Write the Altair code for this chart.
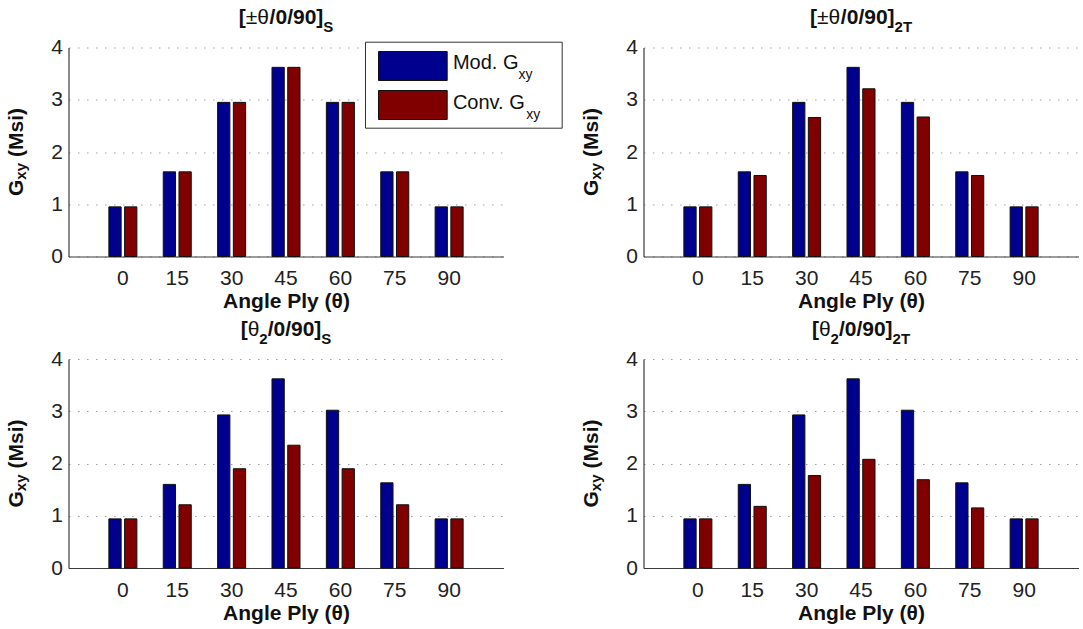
import altair as alt
import pandas as pd

# ---------------- data ----------------
angles = ["0", "15", "30", "45", "60", "75", "90"]
series_names = ["Mod. Gxy", "Conv. Gxy"]

p1_mod = [0.95, 1.62, 2.95, 3.62, 2.95, 1.62, 0.95]
p1_conv = [0.95, 1.62, 2.95, 3.62, 2.95, 1.62, 0.95]
p2_mod = [0.95, 1.62, 2.95, 3.62, 2.95, 1.62, 0.95]
p2_conv = [0.95, 1.55, 2.66, 3.21, 2.67, 1.55, 0.95]
p3_mod = [0.94, 1.60, 2.93, 3.62, 3.02, 1.63, 0.94]
p3_conv = [0.94, 1.21, 1.90, 2.35, 1.90, 1.21, 0.94]
p4_mod = [0.94, 1.60, 2.93, 3.62, 3.02, 1.63, 0.94]
p4_conv = [0.94, 1.18, 1.77, 2.08, 1.69, 1.15, 0.94]

y_ticks = [0, 1, 2, 3, 4]

# ---------------- style ----------------
FONT = "Liberation Sans"
BLUE = "#00008f"
RED = "#800000"
TXT = "#111111"
W, H = 435, 209

REG = {'[': 278, ']': 278, '/': 278, '±': 584, 'θ': 556, ' ': 278, '(': 333, ')': 333,
       '.': 278, 'G': 778, 'M': 833, 'C': 722, 'S': 667, 'T': 611, 'd': 556, 'i': 222,
       'n': 556, 'o': 556, 's': 500, 'v': 500, 'x': 500, 'y': 500}
BOLD = {'[': 333, ']': 333, '/': 278, '±': 584, 'θ': 611, ' ': 278, '(': 333, ')': 333,
        '.': 278, 'G': 778, 'M': 833, 'C': 722, 'S': 667, 'T': 611, 'd': 611, 'i': 278,
        'n': 611, 'o': 611, 's': 556, 'v': 556, 'x': 556, 'y': 556}


def tw(s, size, bold):
    t = BOLD if bold else REG
    return sum(t.get(c, 556) for c in s) / 1000.0 * size


ONE = pd.DataFrame({"k": [0]})


def txt(s, x, y, size, bold=True, angle=0, align="left"):
    kw = dict(text=s, font=FONT, fontSize=size,
              fontWeight="bold" if bold else "normal",
              align=align, baseline="alphabetic", color=TXT)
    if angle:
        kw["angle"] = angle
    return alt.Chart(ONE).mark_text(**kw).encode(x=alt.value(x), y=alt.value(y))


def seq_text(segments, center, base, horizontal=True):
    # segments: (text, size, bold, baseline shift, gap before)
    total = sum(tw(s, sz, b) + g for s, sz, b, sh, g in segments)
    layers = []
    if horizontal:
        pos = center - total / 2
        for s, sz, b, sh, g in segments:
            pos += g
            layers.append(txt(s, pos, base + sh, sz, b))
            pos += tw(s, sz, b)
    else:
        pos = center + total / 2
        for s, sz, b, sh, g in segments:
            pos -= g
            layers.append(txt(s, base + sh, pos, sz, b, angle=270))
            pos -= tw(s, sz, b)
    return layers


def title_segs(first, sub1, sub2):
    segs = [("[", 21, True, 0, 0), (first, 21, False, 0, 0)]
    if sub1:
        segs.append((sub1, 15, True, 8, 0))
    segs += [("/0/90]", 21, True, 0, 0), (sub2, 15, True, 8, 0)]
    return segs


ytitle = [("G", 21, True, 0, 0), ("xy", 15, True, 3, 0), ("(Msi)", 21, True, 0, 6)]


def legend_layers():
    out = []
    out.append(alt.Chart(ONE).mark_rect(fill="white", stroke="#333333", strokeWidth=1).encode(
        x=alt.value(297), x2=alt.value(493.7), y=alt.value(-5.3), y2=alt.value(80.7)))
    for col, y1, y2 in [(BLUE, 4, 33), (RED, 43, 72)]:
        out.append(alt.Chart(ONE).mark_rect(fill=col, stroke="#111111", strokeWidth=1).encode(
            x=alt.value(310), x2=alt.value(378.7), y=alt.value(y1), y2=alt.value(y2)))
    for lab, base in [("Mod. G", 21.5), ("Conv. G", 61.5)]:
        out.append(txt(lab, 384.4, base, 20, bold=False))
        out.append(txt("xy", 384.4 + tw(lab, 20, False), base + 10, 14, bold=False))
    return out


def panel(mod, conv, segs, legend=False):
    df = pd.DataFrame({
        "angle": angles * 2,
        "series": [series_names[0]] * len(angles) + [series_names[1]] * len(angles),
        "value": mod + conv,
    })
    bars = alt.Chart(df).mark_bar(stroke="#111111", strokeWidth=1).encode(
        x=alt.X("angle:N", sort=angles,
                scale=alt.Scale(paddingInner=0.485, paddingOuter=0.7425),
                axis=alt.Axis(title="Angle Ply (θ)", labelAngle=0, grid=False, ticks=False,
                              tickSize=0, labelPadding=11, titleY=51,
                              titleBaseline="alphabetic")),
        xOffset=alt.XOffset("series:N", sort=series_names,
                            scale=alt.Scale(paddingInner=0.22)),
        y=alt.Y("value:Q", scale=alt.Scale(domain=[0, 4], nice=False),
                axis=alt.Axis(title=None, values=y_ticks, grid=True, ticks=False,
                              tickSize=0, labelPadding=6, format="d")),
        color=alt.Color("series:N", scale=alt.Scale(domain=series_names, range=[BLUE, RED]),
                        legend=None),
    )
    layers = [bars]
    layers += seq_text(segs, W / 2, -23.5, horizontal=True)
    layers += seq_text(ytitle, H / 2, -45.6, horizontal=False)
    if legend:
        layers += legend_layers()
    return alt.layer(*layers).properties(width=W, height=H)


c1 = panel(p1_mod, p1_conv, title_segs("±θ", None, "S"), legend=True)
c2 = panel(p2_mod, p2_conv, title_segs("±θ", None, "2T"))
c3 = panel(p3_mod, p3_conv, title_segs("θ", "2", "S"))
c4 = panel(p4_mod, p4_conv, title_segs("θ", "2", "2T"))

chart = alt.concat(
    c1, c2, c3, c4, columns=2,
    spacing={"row": 102.5, "column": 140},
    bounds="flush",
).properties(
    padding={"left": 4.5, "top": 6.5, "right": 0, "bottom": 0},
    autosize=alt.AutoSizeParams(type="pad"),
    background="white",
).configure_view(
    stroke="transparent"
).configure_axis(
    labelFont=FONT, labelFontSize=21, labelColor="#222222",
    titleFont=FONT, titleFontSize=21, titleFontWeight="bold", titleColor=TXT,
    domainColor="#3a3a3a", domainWidth=1.2,
    gridColor="#a0a0a0", gridDash=[1.5, 7.5], gridWidth=1.1,
)

chart.save("out.html", embed_options={"renderer": "svg", "actions": False})
